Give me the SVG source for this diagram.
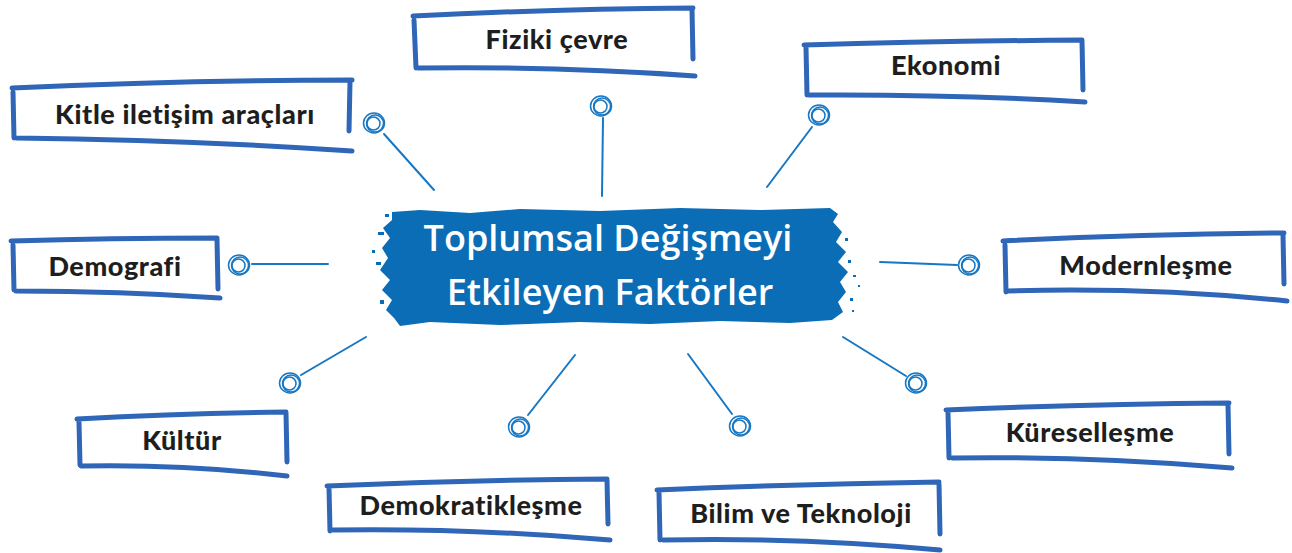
<svg xmlns="http://www.w3.org/2000/svg" width="1292" height="553" viewBox="0 0 1292 553">
<defs>
<style>
.bx{fill:none;stroke:#2f66b7;stroke-width:5;stroke-linecap:round;stroke-linejoin:round}
.lb{font-family:Lato,"Liberation Sans",sans-serif;font-weight:900;font-size:27px;letter-spacing:0.6px;fill:#1e1e1e;text-anchor:middle}
.cn{fill:none;stroke:#1677c4;stroke-width:2;stroke-linecap:round}
.sp{fill:none;stroke:#1677c4;stroke-width:1.5}
.tt{font-family:"Open Sans","Liberation Sans",sans-serif;font-weight:600;font-size:36px;fill:#ffffff;text-anchor:middle}
.bn{fill:#0b6db6}
</style>
<g id="spiral">
<ellipse class="sp" cx="0" cy="0" rx="10.5" ry="10"/>
<ellipse class="sp" cx="1" cy="0.5" rx="8.5" ry="8.5"/>
<ellipse class="sp" cx="-0.5" cy="0.5" rx="6.5" ry="6.5"/>
</g>
</defs>
<rect width="1292" height="553" fill="#ffffff"/>

<g id="connectors">
<line class="cn" x1="384" y1="134" x2="434" y2="190"/>
<use href="#spiral" x="374" y="123"/>
<line class="cn" x1="603" y1="118" x2="602" y2="196"/>
<use href="#spiral" x="601" y="106"/>
<line class="cn" x1="812" y1="127" x2="767" y2="187"/>
<use href="#spiral" x="819" y="115"/>
<line class="cn" x1="252" y1="264" x2="328" y2="264"/>
<use href="#spiral" x="239" y="265"/>
<line class="cn" x1="880" y1="262" x2="957" y2="265"/>
<use href="#spiral" x="969" y="265"/>
<line class="cn" x1="301" y1="375" x2="366" y2="337"/>
<use href="#spiral" x="290" y="383"/>
<line class="cn" x1="528" y1="415" x2="575" y2="355"/>
<use href="#spiral" x="519" y="427"/>
<line class="cn" x1="688" y1="354" x2="732" y2="414"/>
<use href="#spiral" x="740" y="426"/>
<line class="cn" x1="843" y1="337" x2="906" y2="376"/>
<use href="#spiral" x="916" y="383"/>
</g>

<g id="center">
<path class="bn" d="M392,212 L420,210 L470,213 L520,209 L600,211 L680,208 L760,210 L830,208 L838,214 L833,222 L842,232 L836,242 L846,252 L838,262 L848,272 L840,282 L846,292 L838,302 L843,312 L832,320 L790,323 L720,321 L650,324 L580,322 L500,325 L430,322 L400,326 L394,318 L386,310 L392,300 L382,290 L390,280 L380,270 L388,258 L382,248 L390,238 L383,228 L392,220 Z"/>
<g class="bn">
<rect x="378" y="232" width="6" height="3"/><rect x="376" y="262" width="5" height="3"/><rect x="380" y="300" width="4" height="4"/>
<rect x="372" y="250" width="3" height="3"/><rect x="385" y="214" width="4" height="3"/><rect x="848" y="260" width="3" height="3"/>
<rect x="853" y="275" width="3" height="2"/><rect x="850" y="298" width="3" height="3"/><rect x="858" y="285" width="2" height="2"/>
<rect x="845" y="238" width="3" height="3"/><rect x="852" y="310" width="2" height="2"/>
</g>
<text class="tt" x="608" y="251">Toplumsal Değişmeyi</text>
<text class="tt" x="610" y="305">Etkileyen Faktörler</text>
</g>

<g id="n-kitle">
<path class="bx" d="M12,88 Q180,80 352,80 M13,92 L14,138 M350,82 L349,131 M16,138 Q190,140 352,151"/>
<text class="lb" x="185" y="124">Kitle iletişim araçları</text>
</g>
<g id="n-fiziki">
<path class="bx" d="M413,16 Q550,9 693,8 M414,20 L416,68 M692,9 L693,59 M418,68 Q560,66 695,76"/>
<text class="lb" x="557" y="49">Fiziki çevre</text>
</g>
<g id="n-ekonomi">
<path class="bx" d="M804,45 Q940,41 1082,40 M806,47 L807,95 M1082,41 L1083,90 M809,95 Q950,94 1085,102"/>
<text class="lb" x="946" y="75">Ekonomi</text>
</g>
<g id="n-demografi">
<path class="bx" d="M11,241 Q110,238 217,238 M13,245 L14,290 M217,239 L218,289 M16,291 Q120,291 220,298"/>
<text class="lb" x="115" y="276">Demografi</text>
</g>
<g id="n-modern">
<path class="bx" d="M1003,241 Q1140,234 1284,233 M1005,245 L1006,292 M1283,235 L1284,284 M1008,291 Q1150,287 1287,301"/>
<text class="lb" x="1146" y="275">Modernleşme</text>
</g>
<g id="n-kultur">
<path class="bx" d="M77,419 Q180,413 286,412 M79,422 L80,465 M286,413 L287,462 M81,466 Q185,464 287,476"/>
<text class="lb" x="182" y="450">Kültür</text>
</g>
<g id="n-demokrat">
<path class="bx" d="M327,486 Q470,480 607,479 M329,488 L330,531 M607,480 L608,524 M333,530 Q470,528 610,540"/>
<text class="lb" x="471" y="515">Demokratikleşme</text>
</g>
<g id="n-bilim">
<path class="bx" d="M657,490 Q800,484 939,482 M659,492 L660,540 M939,484 L940,534 M663,540 Q800,537 940,550"/>
<text class="lb" x="801" y="523">Bilim ve Teknoloji</text>
</g>
<g id="n-kuresel">
<path class="bx" d="M946,410 Q1090,404 1229,403 M948,412 L949,458 M1228,405 L1229,454 M952,458 Q1090,456 1232,468"/>
<text class="lb" x="1090" y="442">Küreselleşme</text>
</g>
</svg>
